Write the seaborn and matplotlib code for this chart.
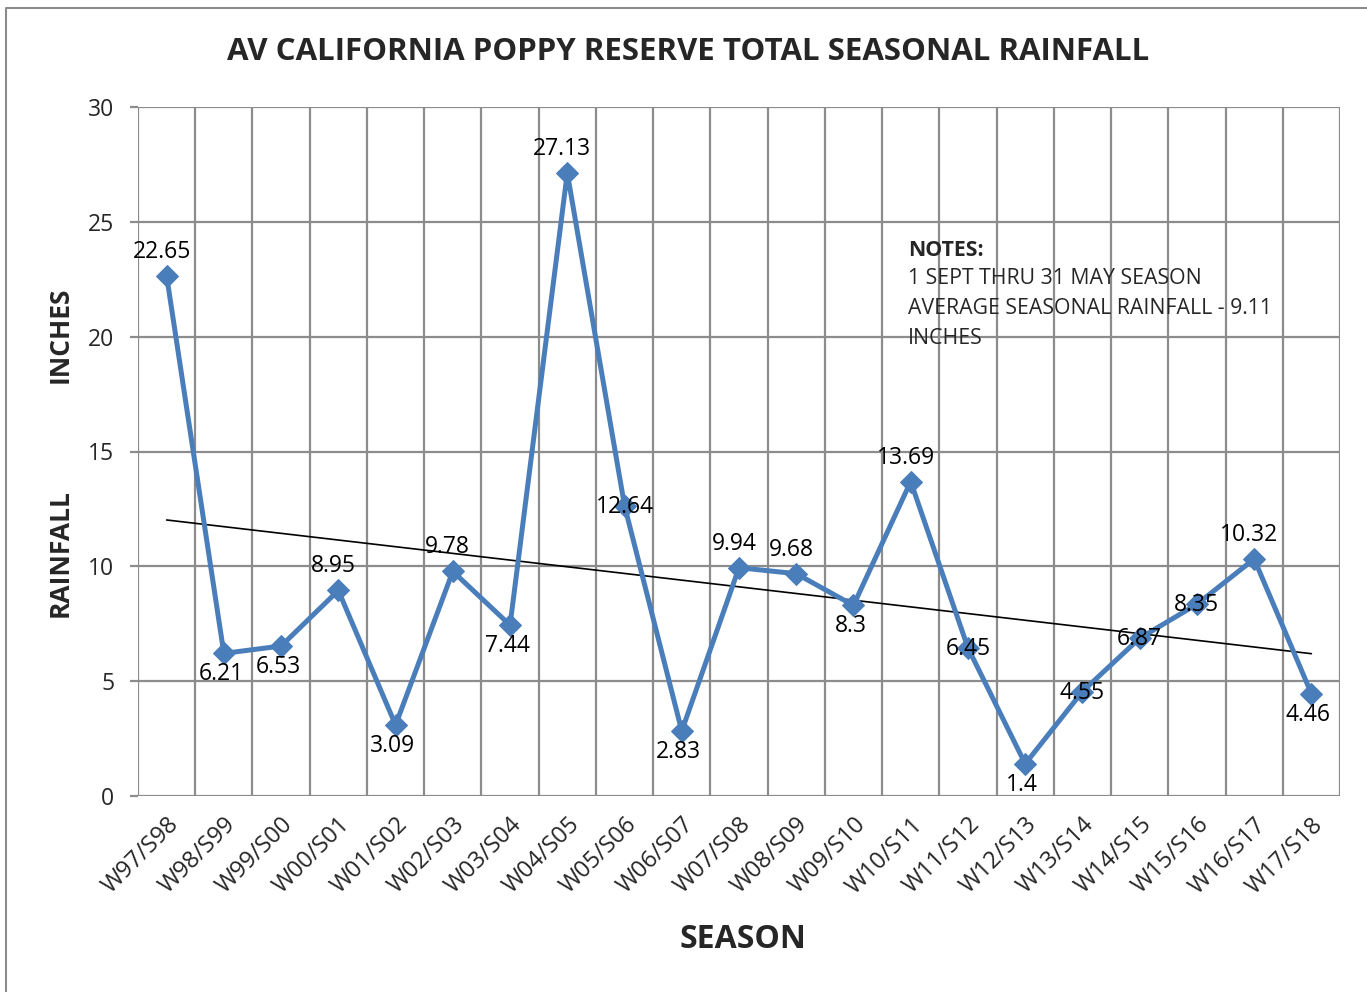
import numpy as np
import pandas as pd
import matplotlib
matplotlib.use("Agg")
import matplotlib.pyplot as plt
import seaborn as sns
from matplotlib.lines import Line2D

seasons = ["W97/S98", "W98/S99", "W99/S00", "W00/S01", "W01/S02", "W02/S03", "W03/S04",
           "W04/S05", "W05/S06", "W06/S07", "W07/S08", "W08/S09", "W09/S10", "W10/S11",
           "W11/S12", "W12/S13", "W13/S14", "W14/S15", "W15/S16", "W16/S17", "W17/S18"]
rainfall = [22.65, 6.21, 6.53, 8.95, 3.09, 9.78, 7.44, 27.13, 12.64, 2.83, 9.94, 9.68,
            8.3, 13.69, 6.45, 1.4, 4.55, 6.87, 8.35, 10.32, 4.46]
label_texts = ["22.65", "6.21", "6.53", "8.95", "3.09", "9.78", "7.44", "27.13", "12.64",
               "2.83", "9.94", "9.68", "8.3", "13.69", "6.45", "1.4", "4.55", "6.87",
               "8.35", "10.32", "4.46"]
label_place = ["above", "below", "below", "above", "below", "above", "below", "above",
               "center", "below", "above", "above", "below", "above", "center", "below",
               "center", "center", "center", "above", "below"]
y_ticks = [0, 5, 10, 15, 20, 25, 30]

sns.set_theme(style="white")
plt.rcParams['font.family'] = ['Open Sans', 'DejaVu Sans']

df = pd.DataFrame({"x": np.arange(len(seasons)), "rain": rainfall})

fig = plt.figure(figsize=(13.67, 9.92), dpi=100)
ax = fig.add_axes([138/1367, 1-796/992, (1340-138)/1367, (796-107)/992])

grid_col = "#8c8c8c"
for b in np.arange(-0.5, len(seasons), 1.0):
    ax.axvline(b, color=grid_col, lw=1.6, zorder=0)
for yt in y_ticks:
    ax.axhline(yt, color=grid_col, lw=1.6, zorder=0)

coef = np.polyfit(df["x"], df["rain"], 1)
tx = np.array([0, len(seasons) - 1])
ax.plot(tx, np.polyval(coef, tx), color="black", lw=1.2, zorder=2)

sns.lineplot(data=df, x="x", y="rain", ax=ax, color="#4A7EBB", lw=3.6,
             marker="D", markersize=11, markeredgecolor="#4A7EBB", zorder=3)

fs = 16.5
for i, (v, t, p) in enumerate(zip(rainfall, label_texts, label_place)):
    if p == "above":
        off = (-5, 24)
    elif p == "below":
        off = (-3, -21)
    else:
        off = (0, -1)
    ax.annotate(t, (i, v), xytext=off, textcoords="offset pixels",
                ha="center", va="center", fontsize=fs, color="black", zorder=4)

ax.set_xlim(-0.5, len(seasons) - 0.5)
ax.set_ylim(0, 30)
ax.set_xticks(np.arange(len(seasons)))
ax.set_xticklabels(seasons, rotation=45, ha="right", rotation_mode="anchor", fontsize=17)
ax.set_xticks(np.arange(-0.5, len(seasons), 1.0), minor=True)
ax.tick_params(axis="x", which="major", length=0, pad=12)
ax.tick_params(axis="x", which="minor", length=6, width=1.6, color=grid_col, direction="out")
ax.set_yticks(y_ticks)
ax.set_yticklabels([str(v) for v in y_ticks], fontsize=fs)
ax.tick_params(axis="y", length=6, width=1.6, color=grid_col, direction="out", pad=11, left=True)
for s in ax.spines.values():
    s.set_visible(False)
ax.set_xlabel("")
ax.set_ylabel("")

fig.text(688/1367, 1-52/992, "AV CALIFORNIA POPPY RESERVE TOTAL SEASONAL RAINFALL",
         ha="center", va="center", fontsize=22.5, fontweight="bold")
fig.text(743/1367, 1-940/992, "SEASON", ha="center", va="center", fontsize=23, fontweight="bold")
fig.text(60/1367, 1-553/992, "RAINFALL", ha="center", va="center", rotation=90,
         fontsize=19, fontweight="bold")
fig.text(60/1367, 1-335/992, "INCHES", ha="center", va="center", rotation=90,
         fontsize=19, fontweight="bold")

notes = ["1 SEPT THRU 31 MAY SEASON", "AVERAGE SEASONAL RAINFALL - 9.11", "INCHES"]
fig.text(908/1367, 1-250/992, "NOTES:", ha="left", va="center", fontsize=15.3, fontweight="bold")
for k, line in enumerate(notes):
    fig.text(908/1367, 1-(279 + 29.5*k)/992, line, ha="left", va="center", fontsize=15.3)

fig.add_artist(Line2D([6/1367, 6/1367, 1.0], [0.0, 1-8/992, 1-8/992],
                      transform=fig.transFigure, color="#8c8c8c", lw=1.5))

fig.savefig("out.png", dpi=100)
